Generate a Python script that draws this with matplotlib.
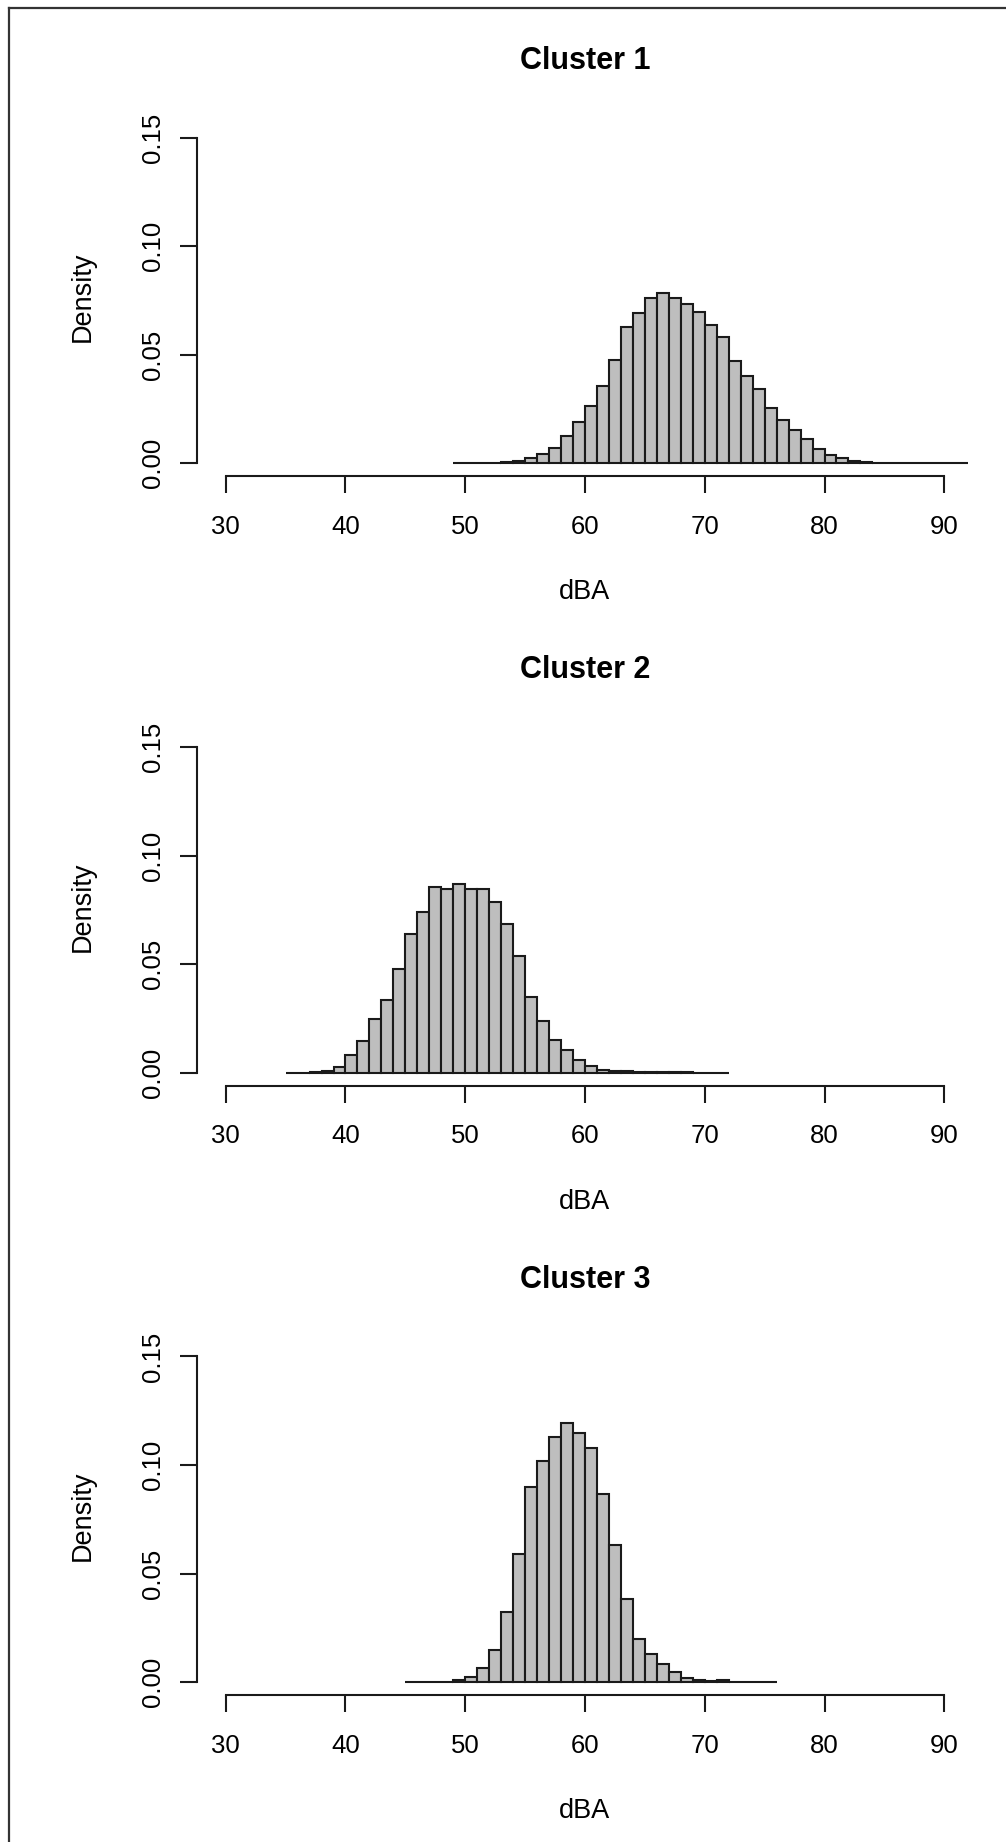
import matplotlib
matplotlib.use("Agg")
import matplotlib.pyplot as plt
from matplotlib.lines import Line2D
import numpy as np

plt.rcParams['font.family'] = ['Liberation Sans', 'DejaVu Sans']

titles = ["Cluster 1", "Cluster 2", "Cluster 3"]
bin_starts = [49, 35, 45]
c1_density = [0.0001, 0.0001, 0.0002, 0.0003, 0.0005, 0.0012, 0.0023, 0.0045, 0.0071, 0.0126,
              0.0192, 0.0265, 0.0356, 0.0476, 0.0626, 0.0692, 0.0763, 0.0786, 0.0761, 0.0734,
              0.0697, 0.0637, 0.0582, 0.0473, 0.0402, 0.0342, 0.0253, 0.0200, 0.0155, 0.0110,
              0.0068, 0.0038, 0.0025, 0.0011, 0.0008, 0.0004, 0.0003, 0.0002, 0.0002, 0.0001,
              0.0001, 0.0001, 0.0001]
c2_density = [0.0000, 0.0001, 0.0002, 0.0009, 0.0028, 0.0080, 0.0147, 0.0248, 0.0334, 0.0480,
              0.0641, 0.0742, 0.0856, 0.0847, 0.0868, 0.0845, 0.0847, 0.0788, 0.0684, 0.0538,
              0.0351, 0.0238, 0.0149, 0.0107, 0.0058, 0.0031, 0.0012, 0.0009, 0.0006, 0.0003,
              0.0004, 0.0003, 0.0002, 0.0002, 0.0001, 0.0001, 0.0001]
c3_density = [0.0000, 0.0000, 0.0001, 0.0003, 0.0008, 0.0023, 0.0064, 0.0150, 0.0322, 0.0590,
              0.0898, 0.1017, 0.1131, 0.1193, 0.1148, 0.1080, 0.0865, 0.0633, 0.0381, 0.0200,
              0.0129, 0.0085, 0.0046, 0.0020, 0.0012, 0.0006, 0.0010, 0.0003, 0.0003, 0.0002,
              0.0001]
densities = [c1_density, c2_density, c3_density]
x_ticks = [30, 40, 50, 60, 70, 80, 90]
y_ticks = [0.00, 0.05, 0.10, 0.15]
y_tick_labels = ["0.00", "0.05", "0.10", "0.15"]
x_label = "dBA"
y_label = "Density"

W, H = 1006, 1842
fig = plt.figure(figsize=(W / 100, H / 100), dpi=100)

left_px, right_px = 197, 973
top_px, bot_px = 124.6, 476.4
spacing = 609.4
lw = 1.5

for i in range(3):
    off = i * spacing
    ax = fig.add_axes([left_px / W, 1 - (bot_px + off) / H,
                       (right_px - left_px) / W, (bot_px - top_px) / H])
    d = np.array(densities[i])
    edges = bin_starts[i] + np.arange(len(d))
    ax.bar(edges, d, width=1.0, align='edge', color='#BEBEBE',
           edgecolor='#1a1a1a', linewidth=lw)
    ax.set_xlim(27.6, 92.4)
    ax.set_ylim(-0.006, 0.156)
    for s in ['top', 'right']:
        ax.spines[s].set_visible(False)
    ax.spines['left'].set_bounds(0, 0.15)
    ax.spines['bottom'].set_bounds(30, 90)
    for s in ['left', 'bottom']:
        ax.spines[s].set_linewidth(lw)
        ax.spines[s].set_color('#1a1a1a')
    ax.set_xticks(x_ticks)
    ax.set_yticks(y_ticks)
    ax.set_yticklabels(y_tick_labels, rotation=90, va='center')
    ax.tick_params(axis='both', direction='out', length=12.2, width=lw,
                   color='#1a1a1a', labelsize=18.5)
    ax.tick_params(axis='x', pad=15.5)
    ax.tick_params(axis='y', pad=11)
    ax.text(0.5, 1.158, titles[i], transform=ax.transAxes, ha='center',
            va='baseline', fontsize=22, fontweight='bold')
    ax.text(0.5, -0.349, x_label, transform=ax.transAxes, ha='center',
            va='baseline', fontsize=19.5)
    ax.text(-0.1379, 0.51, y_label, transform=ax.transAxes, ha='center',
            va='baseline', rotation=90, rotation_mode='anchor', fontsize=19.5)

# partial outer frame (top and left edges)
fig.add_artist(Line2D([8.5 / W, 1.0], [1 - 8.5 / H, 1 - 8.5 / H],
                      transform=fig.transFigure, color='#333333', linewidth=1.6))
fig.add_artist(Line2D([8.5 / W, 8.5 / W], [0.0, 1 - 8.5 / H],
                      transform=fig.transFigure, color='#333333', linewidth=1.6))

fig.savefig("out.png", dpi=100, facecolor='white')
